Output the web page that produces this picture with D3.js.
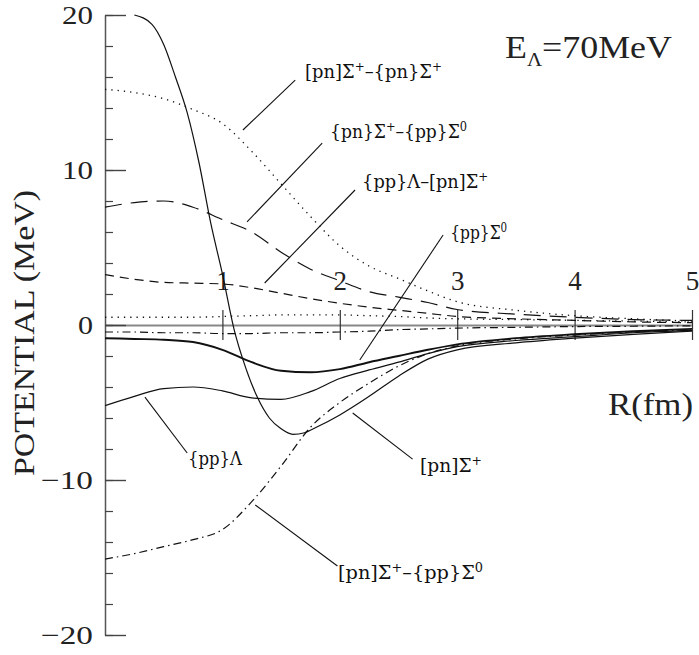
<!DOCTYPE html>
<html>
<head>
<meta charset="utf-8">
<script src="https://cdn.jsdelivr.net/npm/d3@7"></script>
<style>
  body { margin: 0; background: #fff; }
  svg { display: block; }
</style>
</head>
<body>
<div id="container"></div>
<script>
let w = 699;
let h = 655;

// DATA
let rGrid = [0, 0.25, 0.5, 0.75, 1, 1.25, 1.5, 1.75, 2, 2.25, 2.5, 2.75, 3, 3.5, 4, 4.5, 5];
// [pn]S+ - {pn}S+  (dotted)
let vPnSpPnSp = [15.2, 15.0, 14.6, 13.9, 13.0, 11.2, 9.1, 7.0, 5.1, 3.8, 3.0, 2.2, 1.5, 0.95, 0.6, 0.4, 0.25];
// {pn}S+ - {pp}S0  (long dash)
let vCurlyPnSpPpS0 = [7.6, 7.9, 8.0, 7.6, 6.8, 6.0, 4.7, 3.6, 2.85, 2.15, 1.8, 1.45, 1.0, 0.7, 0.5, 0.35, 0.3];
// {pp}L - [pn]S+  (short dash)
let vPpLPnSp = [3.25, 2.95, 2.75, 2.7, 2.65, 2.4, 2.05, 1.7, 1.4, 1.15, 0.95, 0.75, 0.55, 0.4, 0.3, 0.2, 0.15];
// unlabeled small curves near zero
let vSmallDot = [0.5, 0.5, 0.5, 0.5, 0.55, 0.6, 0.65, 0.65, 0.65, 0.6, 0.55, 0.45, 0.4, 0.35, 0.3, 0.25, 0.2];
let vSmallDashDot = [-0.45, -0.45, -0.5, -0.5, -0.55, -0.55, -0.5, -0.5, -0.45, -0.4, -0.3, -0.25, -0.2, -0.15, -0.1, -0.08, -0.05];
// {pp}S0  (thick solid)
let vPpS0 = [-0.85, -0.9, -0.95, -1.1, -1.6, -2.4, -2.95, -3.05, -2.85, -2.4, -2.0, -1.6, -1.25, -0.85, -0.6, -0.4, -0.25];
// {pp}L  (solid)
let vPpL = [-5.2, -4.6, -4.1, -4.0, -4.25, -4.7, -4.8, -4.3, -3.45, -2.9, -2.4, -1.85, -1.4, -1.0, -0.75, -0.5, -0.35];
// [pn]S+ - {pp}S0  (dash-dot)
let vSqPnSpPpS0 = [-15.1, -14.75, -14.3, -13.85, -13.2, -11.4, -9.1, -6.6, -5.0, -3.75, -2.65, -1.85, -1.35, -0.9, -0.65, -0.45, -0.3];
// [pn]S+  (solid, steep)
let rSteep = [0.25, 0.4, 0.5, 0.6, 0.7, 0.8, 0.9, 1.0, 1.1, 1.2, 1.3, 1.4, 1.5, 1.6, 1.7, 1.8, 2.0, 2.25, 2.5, 2.75, 3.0, 3.5, 4.0, 4.5, 5.0];
let vPnSp = [20.0, 19.4, 18.1, 16.0, 13.7, 10.5, 6.6, 3.3, -0.3, -2.8, -4.7, -6.0, -6.7, -7.05, -6.95, -6.6, -5.8, -4.6, -3.3, -2.2, -1.6, -1.15, -0.85, -0.6, -0.4];

let xTicks = [1, 2, 3, 4, 5];
let yMajor = [-20, -10, 0, 10, 20];
let yMinor = d3.range(-20, 21, 2);

// label text parts: [text, sup]
let labelTexts = [
  [["[pn]Σ", ""], ["+", "sup"], ["–{pn}Σ", ""], ["+", "sup"]],
  [["{pn}Σ", ""], ["+", "sup"], ["–{pp}Σ", ""], ["0", "sup"]],
  [["{pp}Λ–[pn]Σ", ""], ["+", "sup"]],
  [["{pp}Σ", ""], ["0", "sup"]],
  [["{pp}Λ", ""]],
  [["[pn]Σ", ""], ["+", "sup"]],
  [["[pn]Σ", ""], ["+", "sup"], ["–{pp}Σ", ""], ["0", "sup"]]
];

let viz = d3.select("#container").append("svg")
    .attr("width", w)
    .attr("height", h)
    .style("background-color", "white");

let x = d3.scaleLinear().domain([0, 5]).range([105, 692]);
let y = d3.scaleLinear().domain([-20, 20]).range([635, 15]);

let serif = "'Liberation Serif', 'DejaVu Serif', serif";

// clip
viz.append("clipPath").attr("id", "plotclip")
  .append("rect")
    .attr("x", x(0)).attr("y", y(20) - 1)
    .attr("width", x(5) - x(0) + 2).attr("height", y(-20) - y(20) + 2);

// X axis (through zero)
let xAxisTop = d3.axisTop(x).tickValues(xTicks).tickSizeInner(15).tickSizeOuter(0).tickPadding(20).tickFormat(d3.format("d"));
let xAxisBot = d3.axisBottom(x).tickValues(xTicks).tickSizeInner(15).tickSizeOuter(0).tickFormat("");
let gx1 = viz.append("g").attr("transform", "translate(0," + y(0) + ")").call(xAxisTop);
let gx2 = viz.append("g").attr("transform", "translate(0," + y(0) + ")").call(xAxisBot);
gx1.select(".domain").attr("stroke", "#888").attr("stroke-width", 2);
gx2.select(".domain").remove();
viz.selectAll("g.tick line").attr("stroke", "#333").attr("stroke-width", 1.2);
gx1.selectAll("text")
    .attr("font-family", serif)
    .attr("font-size", 27)
    .attr("fill", "#222");

// Y axis (ticks to the right)
let gyMinor = viz.append("g").attr("transform", "translate(" + x(0) + ",0)")
    .call(d3.axisRight(y).tickValues(yMinor).tickSizeInner(8).tickSizeOuter(0).tickFormat(""));
let gyMajor = viz.append("g").attr("transform", "translate(" + x(0) + ",0)")
    .call(d3.axisRight(y).tickValues(yMajor).tickSizeInner(21).tickSizeOuter(0).tickFormat(""));
gyMinor.select(".domain").attr("stroke", "#555").attr("stroke-width", 1.5);
gyMajor.select(".domain").remove();
gyMinor.selectAll(".tick line").attr("stroke", "#444").attr("stroke-width", 1.2);
gyMajor.selectAll(".tick line").attr("stroke", "#444").attr("stroke-width", 1.4);

// y tick labels on the left
viz.append("g").selectAll("text").data(yMajor).enter()
  .append("text")
    .attr("x", 93)
    .attr("y", function(d) { return y(d) + 9; })
    .attr("text-anchor", "end")
    .attr("font-family", serif)
    .attr("font-size", 26)
    .attr("fill", "#222")
    .attr("textLength", function(d) { return d < 0 ? 52 : (d == 0 ? 15 : 31); })
    .attr("lengthAdjust", "spacingAndGlyphs")
    .text(function(d) { return d < 0 ? "−" + Math.abs(d) : d; });

// axis titles
viz.append("text")
    .attr("transform", "translate(34,333) rotate(-90)")
    .attr("text-anchor", "middle")
    .attr("font-family", serif)
    .attr("font-size", 30)
    .attr("fill", "#222")
    .attr("textLength", 286)
    .attr("lengthAdjust", "spacingAndGlyphs")
    .text("POTENTIAL (MeV)");

viz.append("text")
    .attr("x", 693).attr("y", 415)
    .attr("text-anchor", "end")
    .attr("font-family", serif)
    .attr("font-size", 31)
    .attr("fill", "#222")
    .attr("textLength", 85)
    .attr("lengthAdjust", "spacingAndGlyphs")
    .text("R(fm)");

let eLab = viz.append("text")
    .attr("x", 505).attr("y", 58)
    .attr("font-family", serif)
    .attr("font-size", 31)
    .attr("fill", "#222")
    .attr("textLength", 167)
    .attr("lengthAdjust", "spacingAndGlyphs");
eLab.append("tspan").text("E");
eLab.append("tspan").attr("font-size", 18).attr("dy", 8).text("Λ");
eLab.append("tspan").attr("dy", -8).text("=70MeV");

// curves
function series(rs, vs) { return rs.map(function(r, i) { return [r, vs[i]]; }); }
let lineMaker = d3.line()
    .x(function(d) { return x(d[0]); })
    .y(function(d) { return y(d[1]); })
    .curve(d3.curveMonotoneX);

let curves = [
  { d: series(rGrid, vPnSpPnSp), dash: "1.3,5", sw: 1.3 },
  { d: series(rGrid, vCurlyPnSpPpS0), dash: "17,9", sw: 1.2 },
  { d: series(rGrid, vPpLPnSp), dash: "9,6", sw: 1.2 },
  { d: series(rGrid, vSmallDot), dash: "1.3,5", sw: 1.3 },
  { d: series(rGrid, vSmallDashDot), dash: "8,4,1.5,4", sw: 1.2 },
  { d: series(rGrid, vPpS0), dash: null, sw: 1.9 },
  { d: series(rGrid, vPpL), dash: null, sw: 1.2 },
  { d: series(rGrid, vSqPnSpPpS0), dash: "8,4,1.5,4", sw: 1.2 },
  { d: series(rSteep, vPnSp), dash: null, sw: 1.2 }
];

let curveGroup = viz.append("g").attr("clip-path", "url(#plotclip)");
curveGroup.selectAll(".curve").data(curves).enter()
  .append("path")
    .attr("class", "curve")
    .attr("d", function(c) { return lineMaker(c.d); })
    .attr("fill", "none")
    .attr("stroke", "#111")
    .attr("stroke-width", function(c) { return c.sw; })
    .attr("stroke-dasharray", function(c) { return c.dash; });

// labels and leader lines (data coordinates)
let labelPos = [
  { r: 1.704, v: 15.94, len: 137, lead: [[1.62, 15.8], [1.175, 12.58]] },
  { r: 1.917, v: 12.06, len: 137, lead: [[1.85, 11.74], [1.21, 6.65]] },
  { r: 2.19, v: 8.84, len: 126, lead: [[2.13, 8.71], [1.36, 2.71]] },
  { r: 2.94, v: 5.55, len: 57, lead: [[2.88, 5.81], [2.17, -2.26]] },
  { r: 0.707, v: -9.03, len: 54, lead: [[0.70, -8.26], [0.34, -4.65]] },
  { r: 2.683, v: -9.48, len: 62, lead: [[2.62, -8.65], [2.11, -5.68]] },
  { r: 1.985, v: -16.39, len: 145, lead: [[1.98, -15.55], [1.28, -11.61]] }
];

let labelGroup = viz.append("g");
labelPos.forEach(function(p, i) {
  labelGroup.append("line")
      .attr("x1", x(p.lead[0][0])).attr("y1", y(p.lead[0][1]))
      .attr("x2", x(p.lead[1][0])).attr("y2", y(p.lead[1][1]))
      .attr("stroke", "#111")
      .attr("stroke-width", 1.1);
  let t = labelGroup.append("text")
      .attr("x", x(p.r)).attr("y", y(p.v))
      .attr("font-family", "'DejaVu Serif', serif")
      .attr("font-size", 18)
      .attr("fill", "#111")
      .attr("textLength", p.len)
      .attr("lengthAdjust", "spacingAndGlyphs");
  let up = false;
  labelTexts[i].forEach(function(part) {
    let s = t.append("tspan").text(part[0]);
    if (part[1] == "sup") {
      s.attr("font-size", 12).attr("dy", -7);
      up = true;
    } else if (up) {
      s.attr("dy", 7);
      up = false;
    }
  });
});
</script>
</body>
</html>
